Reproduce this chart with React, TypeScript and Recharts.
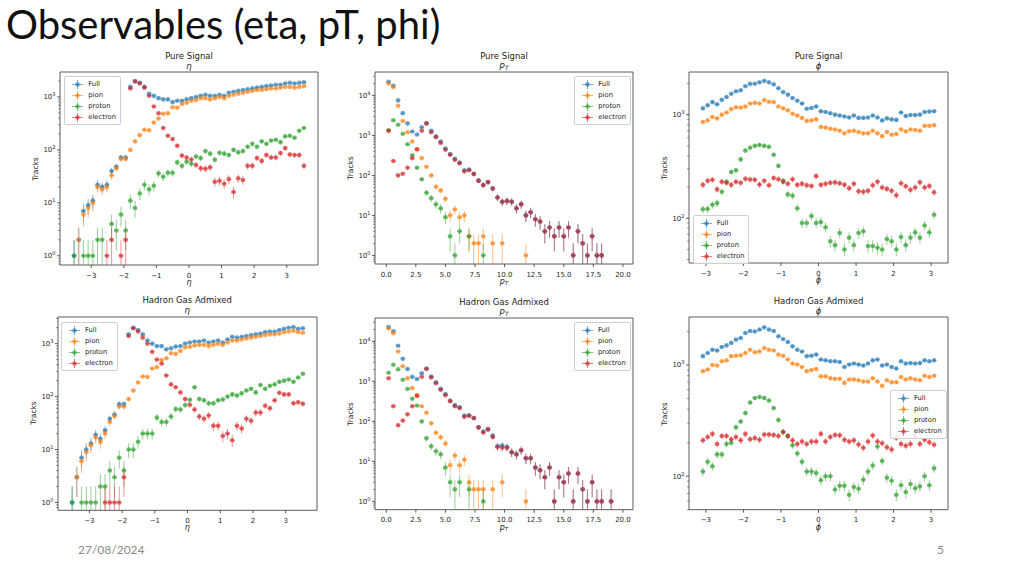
import React from "react"
import { ErrorBar, Legend, ReferenceArea, Scatter, ScatterChart, XAxis, YAxis } from "recharts"

const FONT = "DejaVu Sans, sans-serif"
const MINUS = "\u2212"

// bin centres
const etaBins = [-3.528, -3.384, -3.24, -3.096, -2.952, -2.808, -2.664, -2.52, -2.376, -2.232, -2.088, -1.944, -1.8, -1.656, -1.512, -1.368, -1.224, -1.08, -0.936, -0.792, -0.648, -0.504, -0.36, -0.216, -0.072, 0.072, 0.216, 0.36, 0.504, 0.648, 0.792, 0.936, 1.08, 1.224, 1.368, 1.512, 1.656, 1.8, 1.944, 2.088, 2.232, 2.376, 2.52, 2.664, 2.808, 2.952, 3.096, 3.24, 3.384, 3.528]
const ptBins = [0.2, 0.6, 1.0, 1.4, 1.8, 2.2, 2.6, 3.0, 3.4, 3.8, 4.2, 4.6, 5.0, 5.4, 5.8, 6.2, 6.6, 7.0, 7.4, 7.8, 8.2, 8.6, 9.0, 9.4, 9.8, 10.2, 10.6, 11.0, 11.4, 11.8, 12.2, 12.6, 13.0, 13.4, 13.8, 14.2, 14.6, 15.0, 15.4, 15.8, 16.2, 16.6, 17.0, 17.4, 17.8, 18.2, 18.6, 19.0, 19.4, 19.8]
const phiBins = [-3.079, -2.953, -2.827, -2.702, -2.576, -2.45, -2.325, -2.199, -2.073, -1.948, -1.822, -1.696, -1.571, -1.445, -1.319, -1.194, -1.068, -0.942, -0.817, -0.691, -0.565, -0.44, -0.314, -0.188, -0.063, 0.063, 0.188, 0.314, 0.44, 0.565, 0.691, 0.817, 0.942, 1.068, 1.194, 1.319, 1.445, 1.571, 1.696, 1.822, 1.948, 2.073, 2.199, 2.325, 2.45, 2.576, 2.702, 2.827, 2.953, 3.079]

// Pure Signal
const etaPureFull = [1, 2, 7, 9, 11, 22, 20, 22, 40, 48, 72, 72, 1550, 2000, 1850, 1550, 1150, 1050, 950, 900, 900, 800, 850, 850, 900, 950, 1000, 1050, 1100, 1050, 1050, 1100, 1050, 1200, 1250, 1300, 1350, 1400, 1450, 1500, 1550, 1600, 1650, 1700, 1700, 1800, 1850, 1800, 1850, 1900]
const etaPurePion = [null, 2, 6, 8, 10, 20, 18, 20, 33, 45, 68, 68, 100, 145, 190, 240, 235, 330, 390, 480, 490, 640, 630, 740, 780, 850, 880, 950, 950, 900, 950, 1000, 950, 1050, 1100, 1150, 1200, 1250, 1300, 1350, 1350, 1400, 1450, 1450, 1500, 1550, 1550, 1500, 1550, 1600]
const etaPureProton = [1, null, 1, 1, 1, 2, 2, null, 4, 3, 6, 3, 11, 8, 15, 22, 18, 21, 36, 31, 37, 37, 58, 50, 60, 55, 75, 70, 95, 85, 65, 88, 85, 80, 100, 90, 95, 115, 130, 115, 145, 130, 150, 155, 140, 180, 185, 170, 230, 260]
const etaPureElectron = [null, null, null, null, null, null, null, 1, 2, null, 1, 2, 1450, 1950, 1800, 1500, 1050, 660, 490, 260, 185, 160, 120, 78, 72, 66, 52, 45, 44, 47, 25, 26, 23, 28, 16, 29, 27, 50, 50, 70, 62, 80, 72, 72, 87, 108, 82, 80, 80, 50]

const ptPureFull = [22000, 17500, 7500, 3600, 2000, 1250, 1050, 1600, 2000, 1300, 950, 700, 470, 340, 260, 210, 135, 140, 110, 75, 58, 68, 47, 28, 22, 23, 22, 15, 19, 10, 12, 8, 7, 4, 5, 3, 5, 3, 5, 1, 4, 2, 1, 3, 1, 1]
const ptPurePion = [20000, 16000, 5500, 2300, 1200, 700, 450, 270, 165, 100, 52, 42, 26, 10, 14, 9, 10, 3, 2, 2, 3, null, 2, null, 2, null, null, null, null, 1]
const ptPureProton = [1350, 2400, 1850, 1100, 600, 320, 155, 80, 37, 27, 19, 15, 9, 3, 1, 4, null, 3, null, null, 1]
const ptPureElectron = [1300, 230, 100, 110, 155, 270, 450, 1300, 2000, 1200, 900, 650, 440, 330, 245, 200, 125, 135, 108, 73, 57, 68, 47, 28, 22, 23, 22, 15, 19, 10, 12, 8, 7, 4, 5, 3, 5, 3, 5, 1, 4, 2, 1, 3, 1, 1]

const phiPureFull = [1150, 1230, 1320, 1260, 1390, 1480, 1590, 1680, 1720, 1880, 1980, 1990, 2050, 2120, 2050, 1960, 1800, 1650, 1560, 1450, 1360, 1280, 1140, 1160, 1200, 1080, 1060, 1030, 1000, 980, 960, 940, 980, 930, 930, 940, 980, 940, 880, 920, 900, 890, 1050, 970, 990, 990, 1000, 1060, 1070, 1080]
const phiPurePion = [850, 880, 950, 920, 1000, 1050, 1130, 1180, 1170, 1200, 1280, 1300, 1280, 1380, 1330, 1320, 1200, 1150, 1100, 1020, 980, 930, 870, 880, 900, 760, 750, 730, 720, 700, 660, 690, 700, 680, 660, 660, 700, 660, 620, 680, 640, 650, 720, 690, 720, 710, 700, 780, 780, 790]
const phiPureProton = [122, 123, 135, 140, 180, 225, 280, 290, 370, 450, 480, 500, 510, 500, 490, 410, 320, 230, 170, 165, 125, 90, 90, 105, 90, 92, 82, 60, 55, 72, 50, 65, 55, 72, 75, 54, 54, 52, 50, 63, 60, 50, 66, 55, 65, 73, 65, 85, 73, 108]
const phiPureElectron = [210, 230, 235, 190, 225, 220, 210, 225, 220, 240, 237, 235, 212, 230, 208, 245, 238, 225, 215, 238, 210, 215, 208, 205, 255, 210, 215, 220, 222, 218, 210, 195, 215, 182, 180, 184, 208, 225, 198, 192, 184, 167, 218, 204, 188, 198, 222, 198, 205, 178]

// Hadron Gas Admixed
const etaMixFull = [1, 3, 7, 10, 13, 19, 16, 23, 38, 46, 72, 72, 1500, 2000, 1800, 1500, 1150, 1000, 900, 900, 780, 820, 880, 900, 1000, 1050, 1100, 1100, 1150, 1050, 1100, 1150, 1050, 1200, 1350, 1300, 1350, 1400, 1450, 1500, 1550, 1650, 1700, 1700, 1800, 1900, 2000, 2050, 1900, 1950]
const etaMixPion = [null, 3, 6, 9, 12, 17, 14, 20, 33, 43, 65, 65, 90, 130, 185, 240, 235, 340, 360, 490, 530, 660, 640, 730, 850, 870, 920, 950, 950, 900, 950, 1000, 950, 1050, 1150, 1150, 1200, 1250, 1300, 1350, 1400, 1450, 1500, 1500, 1550, 1650, 1700, 1750, 1650, 1600]
const etaMixProton = [1, null, 1, 1, 1, 1, 2, 2, 4, 3, 7, 4, 10, 10, 14, 20, 20, 20, 40, 33, 33, 42, 58, 57, 69, 87, 150, 90, 85, 75, 75, 85, 88, 100, 110, 105, 115, 130, 140, 120, 165, 140, 160, 170, 190, 200, 210, 190, 230, 270]
const etaMixElectron = [null, null, null, null, null, null, null, 1, 1, 1, 1, 3, 1400, 1950, 1700, 1300, 1000, 700, 500, 420, 250, 170, 150, 120, 90, 70, 57, 42, 38, 44, 28, 28, 18, 20, 15, 28, 25, 38, 35, 50, 50, 67, 60, 85, 118, 110, 110, 75, 78, 73]

const ptMixFull = [23000, 18000, 7800, 3700, 2050, 1300, 1150, 1600, 2100, 1330, 950, 650, 480, 330, 255, 225, 140, 142, 123, 72, 56, 64, 44, 24, 25, 23, 17, 15, 19, 12, 12, 7, 6, 4, 7, 1, 4, 3, 5, 1, 5, 2, 1, 3, 1, 1, null, 1]
const ptMixPion = [21000, 16000, 5600, 2400, 1200, 680, 440, 240, 165, 90, 52, 40, 28, 8, 14, 8, 11, 3, 2, 2, 2, null, 2, null, 3, null, null, null, null, 1]
const ptMixProton = [1650, 2600, 2000, 1100, 650, 370, 250, 100, 38, 24, 18, 15, 7, 3, 2, 3, null, 2, null, null, 1]
const ptMixElectron = [1200, 240, 80, 105, 150, 240, 440, 1300, 2050, 1250, 900, 620, 450, 320, 240, 215, 130, 138, 120, 70, 53, 63, 41, 23, 22, 22, 17, 15, 19, 12, 12, 7, 6, 4, 7, 1, 4, 3, 5, 1, 5, 2, 1, 3, 1, 1, null, 1]

const phiMixFull = [1200, 1280, 1370, 1350, 1450, 1500, 1580, 1690, 1750, 1940, 2020, 2000, 2080, 2180, 2080, 2020, 1810, 1710, 1610, 1470, 1370, 1320, 1200, 1210, 1240, 1120, 1100, 1080, 1080, 1065, 960, 1010, 1030, 1010, 990, 1030, 1100, 1120, 990, 1010, 960, 930, 1080, 1030, 1040, 1030, 1040, 1100, 1080, 1100]
const phiMixPion = [880, 910, 1000, 990, 1080, 1100, 1200, 1210, 1220, 1280, 1370, 1300, 1320, 1420, 1370, 1350, 1240, 1210, 1120, 1030, 1010, 960, 880, 900, 920, 790, 790, 760, 750, 750, 690, 740, 740, 730, 710, 710, 760, 710, 650, 730, 700, 700, 780, 740, 760, 740, 730, 800, 780, 800]
const phiMixProton = [110, 135, 123, 157, 157, 195, 200, 275, 310, 370, 460, 505, 515, 505, 480, 410, 320, 250, 230, 190, 160, 135, 110, 110, 107, 92, 100, 100, 76, 82, 82, 68, 80, 77, 93, 110, 125, 185, 137, 97, 91, 68, 83, 72, 85, 78, 81, 100, 83, 118]
const phiMixElectron = [210, 225, 240, 195, 230, 230, 215, 225, 210, 240, 215, 220, 213, 237, 237, 235, 230, 250, 230, 210, 195, 205, 195, 205, 205, 240, 205, 225, 235, 233, 213, 205, 210, 193, 180, 205, 232, 205, 198, 182, 174, 222, 195, 188, 195, 230, 195, 213, 202, 192]

// axis ticks
const etaTicks = [-3, -2, -1, 0, 1, 2, 3]
const ptTicks = [0, 2.5, 5, 7.5, 10, 12.5, 15, 17.5, 20]
const phiTicks = [-3, -2, -1, 0, 1, 2, 3]

const SPECIES = ["Full", "pion", "proton", "electron"]
const COLORS = { Full: "#1f77b4", pion: "#ff7f0e", proton: "#2ca02c", electron: "#d62728" }

const intFmt = (v) => (v < 0 ? MINUS + Math.abs(v) : String(v))
const ptFmt = (v) => v.toFixed(1)

// log axis ticks: majors at decades, minors at 2..9
function logTicks(lo, hi) {
  const out = []
  for (let k = Math.floor(Math.log10(lo)); k <= Math.ceil(Math.log10(hi)); k++) {
    for (let m = 1; m < 10; m++) {
      const v = m * Math.pow(10, k)
      if (v >= lo && v <= hi) out.push(v)
    }
  }
  return out
}

function toPoints(xs, ys, halfW, yMin) {
  const pts = []
  ys.forEach((y, i) => {
    if (y == null) return
    const e = Math.sqrt(y)
    pts.push({ x: xs[i], y, ex: halfW, ey: [Math.min(e, y - yMin), e] })
  })
  return pts
}

function XTick({ x, y, payload, fmt }) {
  return (
    <g>
      <line x1={x} x2={x} y1={y} y2={y + 3} stroke="#333" strokeWidth={0.8} />
      <text x={x} y={y + 12.5} textAnchor="middle" fontSize={7} fontFamily={FONT} fill="#262626">
        {fmt(payload.value)}
      </text>
    </g>
  )
}

function YTick({ x, y, payload }) {
  const lg = Math.log10(payload.value)
  const e = Math.round(lg)
  const major = Math.abs(lg - e) < 1e-6
  return (
    <g>
      <line x1={x} x2={x - (major ? 3 : 1.8)} y1={y} y2={y} stroke="#333" strokeWidth={major ? 0.8 : 0.6} />
      {major && (
        <text x={x - 4.5} y={y + 2.5} textAnchor="end" fontSize={7} fontFamily={FONT} fill="#262626">
          10<tspan fontSize={5} dy={-3}>{e}</tspan>
        </text>
      )}
    </g>
  )
}

function LegendBox({ payload }) {
  const items = [...(payload || [])].sort((a, b) => SPECIES.indexOf(a.value) - SPECIES.indexOf(b.value))
  return (
    <div style={{ border: "0.8px solid #cfcfcf", borderRadius: 2, background: "rgba(255,255,255,0.85)", padding: "2px 4px 1px 5px", fontFamily: FONT, fontSize: 6.8, color: "#1a1a1a" }}>
      {items.map((p) => {
        const c = COLORS[p.value]
        return (
          <div key={p.value} style={{ display: "flex", alignItems: "center", height: 11 }}>
            <svg width={15} height={11} style={{ marginRight: 3 }}>
              <line x1={2} x2={13} y1={5.5} y2={5.5} stroke={c} strokeOpacity={0.6} strokeWidth={1} />
              <line x1={7.5} x2={7.5} y1={1} y2={10} stroke={c} strokeOpacity={0.6} strokeWidth={1} />
              <circle cx={7.5} cy={5.5} r={2.3} fill={c} fillOpacity={0.65} />
            </svg>
            <span>{p.value}</span>
          </div>
        )
      })}
    </div>
  )
}

const label = (x, y, size, extra = {}) => ({
  position: "absolute", left: x, top: y, transform: "translate(-50%,-50%)", whiteSpace: "nowrap",
  lineHeight: 1, fontFamily: FONT, fontSize: size, color: "#1a1a1a", ...extra,
})

function Panel({ left, top, w, h, title, sub, xs, halfW, xDomain, xTicks, xFmt, yDomain, series, legendAt }) {
  const ML = 45
  const MT = 30
  const W = w + ML + 8
  const H = h + MT + 28
  const yTicks = logTicks(yDomain[0], yDomain[1])
  return (
    <div style={{ position: "absolute", left: left - ML, top: top - MT, width: W, height: H }}>
      <ScatterChart width={W} height={H} margin={{ top: MT, right: 8, bottom: 0, left: 0 }}>
        <XAxis type="number" dataKey="x" domain={xDomain} ticks={xTicks} interval={0} allowDataOverflow
          axisLine={false} tickLine={false} tickSize={0} tickMargin={0} height={28}
          tick={(p) => <XTick x={p.x} y={p.y} payload={p.payload} fmt={xFmt} />} />
        <YAxis type="number" dataKey="y" scale="log" domain={yDomain} ticks={yTicks} interval={0} allowDataOverflow
          axisLine={false} tickLine={false} tickSize={0} tickMargin={0} width={ML}
          tick={(p) => <YTick x={p.x} y={p.y} payload={p.payload} />} />
        <ReferenceArea x1={xDomain[0]} x2={xDomain[1]} y1={yDomain[0]} y2={yDomain[1]} fill="none" stroke="#333" strokeWidth={0.8} />
        {SPECIES.map((s) => (
          <Scatter key={s} name={s} data={toPoints(xs, series[s], halfW, yDomain[0])} fill={COLORS[s]} isAnimationActive={false}
            shape={(p) => <circle cx={p.cx} cy={p.cy} r={2.3} fill={COLORS[s]} fillOpacity={0.65} />}>
            <ErrorBar dataKey="ex" direction="x" width={0} stroke={COLORS[s]} strokeWidth={0.9} strokeOpacity={0.55} isAnimationActive={false} />
            <ErrorBar dataKey="ey" direction="y" width={0} stroke={COLORS[s]} strokeWidth={0.9} strokeOpacity={0.55} isAnimationActive={false} />
          </Scatter>
        ))}
        <Legend layout="vertical" align="center" verticalAlign="middle"
          wrapperStyle={{ left: ML + legendAt[0], top: MT + legendAt[1], width: "auto", height: "auto" }}
          content={(p) => <LegendBox payload={p.payload} />} />
      </ScatterChart>
      <div style={label(ML + w / 2, MT - 16.5, 8.5)}>{title}</div>
      <div style={label(ML + w / 2, MT - 6.5, 8.5, { fontStyle: "italic" })}>{sub}</div>
      <div style={label(ML + w / 2, MT + h + 18, 8, { fontStyle: "italic" })}>{sub}</div>
      <div style={label(ML - 24, MT + h / 2, 7.5, { transform: "translate(-50%,-50%) rotate(-90deg)" })}>Tracks</div>
    </div>
  )
}

const ETA = <span>η</span>
const PT = <span>p<sub style={{ fontSize: "0.7em", verticalAlign: "-0.25em" }}>T</sub></span>
const PHI = <span>ϕ</span>

export default function App() {
  return (
    <div style={{ position: "absolute", left: 0, top: 0, width: 1024, height: 576, background: "#fff", overflow: "hidden" }}>
      <div style={{ position: "absolute", left: 6, top: 0, fontFamily: "Lato, sans-serif", fontSize: 40, lineHeight: "48px", color: "#111", whiteSpace: "nowrap" }}>
        Observables (eta, pT, phi)
      </div>

      <Panel left={60} top={72.3} w={258} h={193} title="Pure Signal" sub={ETA} xs={etaBins} halfW={0.072}
        xDomain={[-3.96, 3.96]} xTicks={etaTicks} xFmt={intFmt} yDomain={[0.67, 2960]} legendAt={[4.3, 3.4]}
        series={{ Full: etaPureFull, pion: etaPurePion, proton: etaPureProton, electron: etaPureElectron }} />
      <Panel left={375} top={72.3} w={258} h={192} title="Pure Signal" sub={PT} xs={ptBins} halfW={0.2}
        xDomain={[-0.95, 20.85]} xTicks={ptTicks} xFmt={ptFmt} yDomain={[0.61, 38500]} legendAt={[199.3, 3.4]}
        series={{ Full: ptPureFull, pion: ptPurePion, proton: ptPureProton, electron: ptPureElectron }} />
      <Panel left={689} top={72.3} w={259} h={191} title="Pure Signal" sub={PHI} xs={phiBins} halfW={0.0628}
        xDomain={[-3.45, 3.45]} xTicks={phiTicks} xFmt={intFmt} yDomain={[37, 2580]} legendAt={[3.7, 142.7]}
        series={{ Full: phiPureFull, pion: phiPurePion, proton: phiPureProton, electron: phiPureElectron }} />

      <Panel left={57.7} top={316.7} w={259} h={193.3} title="Hadron Gas Admixed" sub={ETA} xs={etaBins} halfW={0.072}
        xDomain={[-3.96, 3.96]} xTicks={etaTicks} xFmt={intFmt} yDomain={[0.71, 3190]} legendAt={[3.3, 5]}
        series={{ Full: etaMixFull, pion: etaMixPion, proton: etaMixProton, electron: etaMixElectron }} />
      <Panel left={375} top={318.3} w={258} h={191.7} title="Hadron Gas Admixed" sub={PT} xs={ptBins} halfW={0.2}
        xDomain={[-0.95, 20.85]} xTicks={ptTicks} xFmt={ptFmt} yDomain={[0.62, 38500]} legendAt={[199, 3.4]}
        series={{ Full: ptMixFull, pion: ptMixPion, proton: ptMixProton, electron: ptMixElectron }} />
      <Panel left={689} top={317.3} w={259} h={192.7} title="Hadron Gas Admixed" sub={PHI} xs={phiBins} halfW={0.0628}
        xDomain={[-3.45, 3.45]} xTicks={phiTicks} xFmt={intFmt} yDomain={[50, 2700]} legendAt={[201, 72.7]}
        series={{ Full: phiMixFull, pion: phiMixPion, proton: phiMixProton, electron: phiMixElectron }} />

      <div style={{ position: "absolute", left: 78, top: 542, fontFamily: "Lato, sans-serif", fontSize: 12, color: "#8a8a8a" }}>27/08/2024</div>
      <div style={{ position: "absolute", left: 937, top: 542, fontFamily: "Lato, sans-serif", fontSize: 12, color: "#8a8a8a" }}>5</div>
    </div>
  )
}
